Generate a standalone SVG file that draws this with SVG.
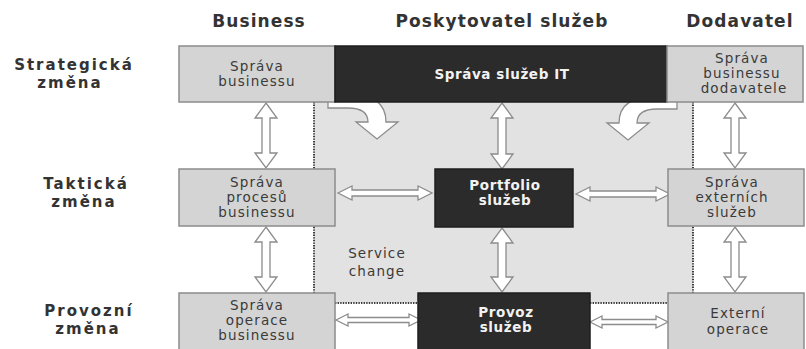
<svg xmlns="http://www.w3.org/2000/svg" width="806" height="349" viewBox="0 0 806 349">
  <style>
    .hdr { font-family: "DejaVu Sans", "Liberation Sans", sans-serif; font-weight: bold; font-size: 17px; fill: #333; letter-spacing: 1.1px; text-anchor: middle; }
    .row { font-family: "DejaVu Sans", "Liberation Sans", sans-serif; font-weight: bold; font-size: 15px; fill: #333; letter-spacing: 2px; text-anchor: middle; }
    .lbl { font-family: "DejaVu Sans", "Liberation Sans", sans-serif; font-size: 13.5px; fill: #3a3a3a; letter-spacing: 1.1px; text-anchor: middle; }
    .lbl-w { font-family: "DejaVu Sans", "Liberation Sans", sans-serif; font-weight: bold; font-size: 13.5px; fill: #f2f2f2; letter-spacing: 0.6px; text-anchor: middle; }
    .light { fill: #d4d4d4; stroke: #8c8c8c; stroke-width: 1.5; }
    .dark { fill: #2b2b2b; stroke: #1e1e1e; stroke-width: 1.5; }
    .dbl { fill: #ffffff; stroke: #8c8c8c; stroke-width: 1.3; stroke-linejoin: miter; }
    .curve { fill: #ffffff; stroke: #8c8c8c; stroke-width: 1.3; }
    .dot { fill: none; stroke: #3c3c3c; stroke-width: 2; stroke-dasharray: 1.4 1.2; }
  </style>

  <!-- shaded service-provider area -->
  <rect id="provider-area" x="314" y="102" width="379" height="201" fill="#e2e2e2"/>

  <!-- column headings -->
  <g id="headings">
    <text class="hdr" x="259" y="27">Business</text>
    <text class="hdr" x="502" y="27">Poskytovatel služeb</text>
    <text class="hdr" x="740" y="27">Dodavatel</text>
  </g>

  <!-- row headings -->
  <g id="row-labels">
    <text class="row" x="74" y="70">Strategická</text>
    <text class="row" x="70" y="88">změna</text>
    <text class="row" x="86" y="189">Taktická</text>
    <text class="row" x="84" y="207">změna</text>
    <text class="row" x="89" y="316">Provozní</text>
    <text class="row" x="88" y="334">změna</text>
  </g>

  <!-- connectors -->
  <g id="connectors">
    <!-- dotted boundaries -->
    <line class="dot" x1="314" y1="102" x2="314" y2="293"/>
    <line class="dot" x1="693" y1="102" x2="693" y2="293"/>
    <line class="dot" x1="335" y1="303" x2="418" y2="303"/>
    <line class="dot" x1="590" y1="303" x2="668" y2="303"/>

    <!-- vertical double arrows: strategic to tactical -->
    <path class="dbl" d="M266,103 L277,118 H270 V153 H277 L266,168 L255,153 H262 V118 H255 Z"/>
    <path class="dbl" d="M502,103 L513,118 H506 V154 H513 L502,169 L491,154 H498 V118 H491 Z"/>
    <path class="dbl" d="M735,103 L746,118 H739 V153 H746 L735,168 L724,153 H731 V118 H724 Z"/>

    <!-- vertical double arrows: tactical to operational -->
    <path class="dbl" d="M266,227 L277,242 H270 V277 H277 L266,292 L255,277 H262 V242 H255 Z"/>
    <path class="dbl" d="M502,228 L513,243 H506 V277 H513 L502,292 L491,277 H498 V243 H491 Z"/>
    <path class="dbl" d="M735,227 L746,242 H739 V277 H746 L735,292 L724,277 H731 V242 H724 Z"/>

    <!-- horizontal double arrows: tactical row -->
    <path class="dbl" d="M338,193 L352,186 V190 H418 V186 L432,193 L418,200 V196 H352 V200 Z"/>
    <path class="dbl" d="M576,194 L590,187 V191 H656 V187 L670,194 L656,201 V197 H590 V201 Z"/>

    <!-- horizontal double arrows: operational row -->
    <path class="dbl" d="M336,320 L348,314 V317.5 H409 V314 L421,320 L409,326 V322.5 H348 V326 Z"/>
    <path class="dbl" d="M590,322 L602,316 V319.5 H656 V316 L668,322 L656,328 V324.5 H602 V328 Z"/>

    <!-- curved arrows out of the strategic row -->
    <path class="curve" d="M328,94 H348 Q386,94 386,122 H398 L377,139 L356,122 H368 Q368,108 348,108 H328 Z"/>
    <path class="curve" transform="translate(1005,0) scale(-1,1)" d="M328,96 H348 Q386,96 386,123 H398 L377,140 L356,123 H368 Q368,109 348,109 H328 Z"/>
  </g>

  <!-- strategic row -->
  <g id="sprava-businessu">
    <rect class="light" x="179" y="46" width="156" height="56"/>
    <text class="lbl" x="257" y="71">Správa</text>
    <text class="lbl" x="257" y="86">businessu</text>
  </g>
  <g id="sprava-sluzeb-it">
    <rect class="dark" x="335" y="46" width="332" height="56"/>
    <text class="lbl-w" x="502" y="79">Správa služeb IT</text>
  </g>
  <g id="sprava-businessu-dodavatele">
    <rect class="light" x="667" y="46" width="136" height="56"/>
    <text class="lbl" x="742" y="63">Správa</text>
    <text class="lbl" x="742" y="78">businessu</text>
    <text class="lbl" x="744" y="93">dodavatele</text>
  </g>

  <!-- tactical row -->
  <g id="sprava-procesu-businessu">
    <rect class="light" x="179" y="169" width="156" height="57"/>
    <text class="lbl" x="257" y="187">Správa</text>
    <text class="lbl" x="257" y="202">procesů</text>
    <text class="lbl" x="257" y="217">businessu</text>
  </g>
  <g id="portfolio-sluzeb">
    <rect class="dark" x="435" y="169" width="138" height="58"/>
    <text class="lbl-w" x="505" y="190">Portfolio</text>
    <text class="lbl-w" x="505" y="205">služeb</text>
  </g>
  <g id="sprava-externich-sluzeb">
    <rect class="light" x="668" y="169" width="136" height="57"/>
    <text class="lbl" x="732" y="187">Správa</text>
    <text class="lbl" x="732" y="202">externích</text>
    <text class="lbl" x="732" y="217">služeb</text>
  </g>

  <!-- service change note -->
  <g id="service-change">
    <text class="lbl" x="377" y="258">Service</text>
    <text class="lbl" x="377" y="276">change</text>
  </g>

  <!-- operational row -->
  <g id="sprava-operace-businessu">
    <rect class="light" x="179" y="293" width="156" height="60"/>
    <text class="lbl" x="257" y="310">Správa</text>
    <text class="lbl" x="257" y="325">operace</text>
    <text class="lbl" x="257" y="340">businessu</text>
  </g>
  <g id="provoz-sluzeb">
    <rect class="dark" x="418" y="293" width="172" height="60"/>
    <text class="lbl-w" x="506" y="317">Provoz</text>
    <text class="lbl-w" x="506" y="332">služeb</text>
  </g>
  <g id="externi-operace">
    <rect class="light" x="668" y="293" width="136" height="60"/>
    <text class="lbl" x="738" y="318">Externí</text>
    <text class="lbl" x="738" y="334">operace</text>
  </g>
</svg>
